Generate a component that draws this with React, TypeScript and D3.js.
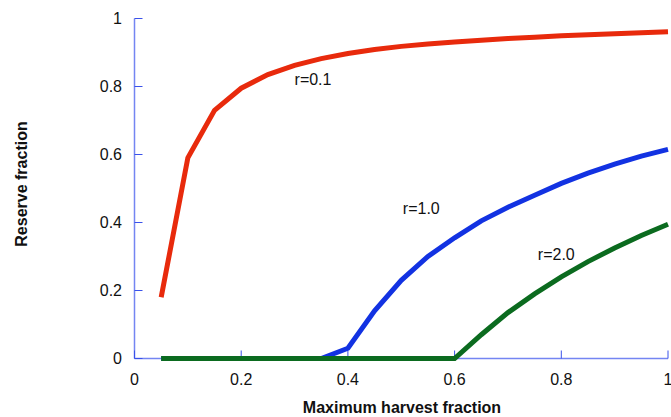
import React from "react";
import * as d3 from "d3";

const harvest = [0.05, 0.1, 0.15, 0.2, 0.25, 0.3, 0.35, 0.4, 0.45, 0.5, 0.55, 0.6, 0.65, 0.7, 0.75, 0.8, 0.85, 0.9, 0.95, 1.0];
const reserveR01 = [0.18, 0.59, 0.73, 0.795, 0.835, 0.862, 0.882, 0.897, 0.909, 0.918, 0.925, 0.931, 0.936, 0.941, 0.945, 0.949, 0.952, 0.955, 0.958, 0.961];
const reserveR10 = [0, 0, 0, 0, 0, 0, 0, 0.03, 0.14, 0.23, 0.3, 0.355, 0.405, 0.445, 0.48, 0.515, 0.545, 0.572, 0.595, 0.615];
const reserveR20 = [0, 0, 0, 0, 0, 0, 0, 0, 0, 0, 0, 0, 0.07, 0.135, 0.19, 0.24, 0.285, 0.325, 0.362, 0.395];
const seriesNames = ["r=0.1", "r=1.0", "r=2.0"];
const labelAnchorX = [0.3, 0.503, 0.756];
const labelAnchorY = [0.803, 0.426, 0.291];
const xTicks = [0, 0.2, 0.4, 0.6, 0.8, 1];
const yTicks = [0, 0.2, 0.4, 0.6, 0.8, 1];
const xTitle = "Maximum harvest fraction";
const yTitle = "Reserve fraction";

const colors = ["#e82a0c", "#1232e2", "#0b6b1f"];
const font = "'Liberation Sans', Arial, Helvetica, sans-serif";

export default function App() {
  const W = 671, H = 417;
  const x = d3.scaleLinear().domain([0, 1]).range([134.5, 668]);
  const y = d3.scaleLinear().domain([0, 1]).range([358.5, 18.5]);
  const line = d3.line<[number, number]>().x(d => x(d[0])).y(d => y(d[1]));
  const series = [reserveR01, reserveR10, reserveR20];
  const tickFmt = (v: number) => (v === 0 || v === 1 ? String(v) : String(v));

  return (
    <svg width={W} height={H} style={{ position: "absolute", left: 0, top: 0, background: "#fff" }}>
      {/* axes */}
      <line x1={x(0)} x2={x(0)} y1={y(1)} y2={y(0)} stroke="#7485f2" strokeWidth={1.5} />
      <line x1={x(0)} x2={x(1)} y1={y(0)} y2={y(0)} stroke="#7485f2" strokeWidth={1.5} />
      {yTicks.map(t => (
        <g key={"y" + t}>
          <line x1={x(0)} x2={x(0) + 8} y1={y(t)} y2={y(t)} stroke="#3a52ea" strokeWidth={1} />
          <text x={122} y={y(t)} dy="0.36em" textAnchor="end" fontFamily={font} fontSize={16} fill="#111">
            {tickFmt(t)}
          </text>
        </g>
      ))}
      {xTicks.map(t => (
        <g key={"x" + t}>
          <line x1={x(t)} x2={x(t)} y1={y(0)} y2={y(0) - 8} stroke="#3a52ea" strokeWidth={1} />
          <text x={x(t)} y={385} textAnchor="middle" fontFamily={font} fontSize={16} fill="#111">
            {tickFmt(t)}
          </text>
        </g>
      ))}
      {/* series */}
      {series.map((s, i) => (
        <path
          key={i}
          d={line(harvest.map((h, j) => [h, s[j]] as [number, number])) || ""}
          fill="none"
          stroke={colors[i]}
          strokeWidth={5}
          strokeLinejoin="miter"
        />
      ))}
      {seriesNames.map((n, i) => (
        <text key={n} x={x(labelAnchorX[i])} y={y(labelAnchorY[i])} fontFamily={font} fontSize={16} fill="#111">
          {n}
        </text>
      ))}
      <text x={402} y={413} textAnchor="middle" fontFamily={font} fontSize={16} fontWeight="bold" fill="#111">
        {xTitle}
      </text>
      <text
        transform={`translate(27,184) rotate(-90)`}
        textAnchor="middle"
        fontFamily={font}
        fontSize={16}
        fontWeight="bold"
        fill="#111"
      >
        {yTitle}
      </text>
    </svg>
  );
}
